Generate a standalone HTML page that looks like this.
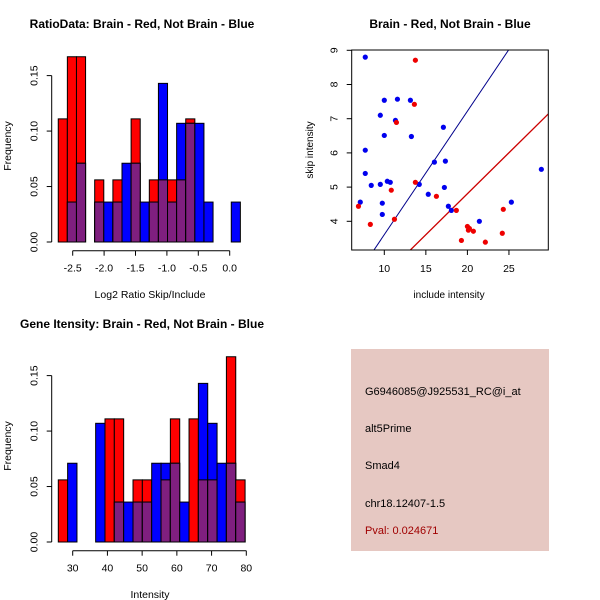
<!DOCTYPE html>
<html><head><meta charset="utf-8"><style>
html,body{margin:0;padding:0;background:#fff}
svg{display:block;font-family:"Liberation Sans",sans-serif}
</style></head><body>
<svg id="c" width="600" height="600" xmlns="http://www.w3.org/2000/svg"></svg>
<script>
// ---- Panel 1: ratio histogram ----
const ratioBinStart = -2.73, ratioBinWidth = 0.145;
const ratioRed  = [0.111,0.167,0.167,0,0.056,0,0.056,0,0.111,0,0.056,0.056,0.056,0.056,0.111,0,0,0,0,0];
const ratioBlue = [0,0.036,0.071,0,0.036,0.036,0.036,0.071,0.071,0.036,0.036,0.143,0.036,0.107,0.107,0.107,0.036,0,0,0.036];
const ratioXTicks = [-2.5,-2.0,-1.5,-1.0,-0.5,0.0];
const ratioXTickLabels = ["-2.5","-2.0","-1.5","-1.0","-0.5","0.0"];
const freqTicks = [0,0.05,0.10,0.15];
const freqTickLabels = ["0.00","0.05","0.10","0.15"];
// ---- Panel 3: intensity histogram ----
const intBinStart = 25.85, intBinWidth = 2.69;
const intRed  = [0.056,0,0,0,0,0.111,0.111,0,0.056,0.056,0,0.056,0.111,0,0.111,0.056,0.056,0,0.167,0.056];
const intBlue = [0,0.071,0,0,0.107,0,0.036,0.036,0.036,0.036,0.071,0.071,0.071,0.036,0,0.143,0.107,0.071,0.071,0.036];
const intXTicks = [30,40,50,60,70,80];
const intXTickLabels = ["30","40","50","60","70","80"];
// ---- Panel 2: scatter ----
const blueX = [7.71,10.0,11.58,13.14,9.52,11.34,10.0,13.26,17.11,7.71,16.03,17.35,7.71,8.43,9.52,10.36,10.72,14.21,15.29,17.23,7.11,9.76,9.76,17.71,18.07,21.44,25.29,28.90];
const blueY = [8.80,7.54,7.57,7.54,7.10,6.95,6.51,6.48,6.75,6.08,5.73,5.76,5.40,5.05,5.08,5.17,5.14,5.08,4.79,4.99,4.56,4.53,4.20,4.44,4.32,4.0,4.56,5.52];
const redX = [13.74,13.62,11.46,13.74,10.84,16.27,6.89,8.32,11.22,18.67,20.0,20.24,20.12,20.72,19.28,22.16,24.20,24.32];
const redY = [8.71,7.42,6.89,5.14,4.91,4.73,4.44,3.91,4.06,4.32,3.85,3.79,3.74,3.71,3.44,3.39,3.65,4.35];
const blueLine = [0.0, 0.361]; // intercept, slope
const redLine = [0.014, 0.2396];
const scXTicks = [10,15,20,25];
const scYTicks = [4,5,6,7,8,9];

const NS="http://www.w3.org/2000/svg";
const svg=document.getElementById('c');
function mk(tag,attrs,parent){const e=document.createElementNS(NS,tag);for(const k in attrs)e.setAttribute(k,attrs[k]);(parent||svg).appendChild(e);return e;}
function txt(s,x,y,size,opts,parent){const t=mk('text',Object.assign({x:x,y:y,'font-size':size,'text-anchor':'middle',fill:'#000'},opts||{}),parent);t.textContent=s;return t;}

function hist(name,ox,oy,binStart,binW,red,blue,xt,xtl,xEndPx,xTitle,title){
  const g=mk('g',{});
  
  
  const x0=ox+72.7, xPerUnit=(ox+xEndPx-x0)/(xt[xt.length-1]-xt[0]);
  const sx=v=>x0+(v-xt[0])*xPerUnit;
  const base=oy+242, sy=v=>base-v*1109.3;
  for(let i=0;i<red.length;i++){
    const a=sx(binStart+i*binW), b=sx(binStart+(i+1)*binW);
    const r=red[i], bl=blue[i], m=Math.min(r,bl);
    if(r>0){const e=mk('rect',{x:a,y:sy(r),width:b-a,height:base-sy(r),fill:'#ff0000',stroke:'#000','stroke-width':1},g);
      
      }
    if(bl>0){const e=mk('rect',{x:a,y:sy(bl),width:b-a,height:base-sy(bl),fill:'#0000ff',stroke:'#000','stroke-width':1},g);
      
      }
    if(m>0){const e=mk('rect',{x:a,y:sy(m),width:b-a,height:base-sy(m),fill:'#7f1f7f',stroke:'#000','stroke-width':1},g);
      
      }
  }
  const ya=ox+51.7;
  mk('line',{x1:ya,x2:ya,y1:sy(0),y2:sy(0.15),stroke:'#000'},g);
  freqTicks.forEach((v,i)=>{mk('line',{x1:ya-5,x2:ya,y1:sy(v),y2:sy(v),stroke:'#000'},g);
    const t=txt(freqTickLabels[i],ya-14,sy(v),10.5,{transform:`rotate(-90 ${ya-14} ${sy(v)})`},g);
    
    });
  const xa=oy+250.7;
  mk('line',{x1:sx(xt[0]),x2:sx(xt[xt.length-1]),y1:xa,y2:xa,stroke:'#000'},g);
  xt.forEach((v,i)=>{mk('line',{x1:sx(v),x2:sx(v),y1:xa,y2:xa+5,stroke:'#000'},g);
    const t=txt(xtl[i],sx(v),xa+21,10.5,{},g);
    
    });
  const xt2=txt(xTitle,ox+150,oy+298,10.5,{},g);
  
  
  const yt=txt('Frequency',ox+11,oy+146,10.5,{transform:`rotate(-90 ${ox+11} ${oy+146})`},g);
  
  
  const tt=txt(title,ox+142,oy+28,12,{'font-weight':'bold'},g);
  
  
}
hist('ratio-histogram',0,0,ratioBinStart,ratioBinWidth,ratioRed,ratioBlue,ratioXTicks,ratioXTickLabels,229.7,'Log2 Ratio Skip/Include','RatioData: Brain - Red, Not Brain - Blue');
hist('intensity-histogram',0,300,intBinStart,intBinWidth,intRed,intBlue,intXTicks,intXTickLabels,246.3,'Intensity','Gene Itensity: Brain - Red, Not Brain - Blue');

(function(){
  const g=mk('g',{});
  
  
  const L=351.7,R=548.3,T=50,B=250;
  const sx=v=>384.3+(v-10)*8.31, sy=v=>50.3+(9-v)*34.2;
  const ix=v=>10+(v-384.3)/8.31;
  const cp=mk('clipPath',{id:'scclip'},g);mk('rect',{x:L,y:T,width:R-L,height:B-T},cp);
  const lg=mk('g',{'clip-path':'url(#scclip)'},g);
  [[blueLine,'#00008b','blue-fit-line',1],[redLine,'#cc0000','red-fit-line',1.3]].forEach(([ln,c,n,w])=>{
    const xa=ix(L),xb=ix(R);
    const e=mk('line',{x1:L,y1:sy(ln[0]+ln[1]*xa),x2:R,y2:sy(ln[0]+ln[1]*xb),stroke:c,'stroke-width':w},lg);
    
    
  });
  blueX.forEach((x,i)=>{const e=mk('circle',{cx:sx(x),cy:sy(blueY[i]),r:2.6,fill:'#0000ee'},lg);
    
    });
  redX.forEach((x,i)=>{const e=mk('circle',{cx:sx(x),cy:sy(redY[i]),r:2.6,fill:'#ee0000'},lg);
    
    });
  mk('rect',{x:L,y:T,width:R-L,height:B-T,fill:'none',stroke:'#000'},g);
  scXTicks.forEach(v=>{mk('line',{x1:sx(v),x2:sx(v),y1:B,y2:B+5,stroke:'#000'},g);
    const t=txt(String(v),sx(v),B+22,10.5,{},g);
    
    });
  scYTicks.forEach(v=>{mk('line',{x1:L-5,x2:L,y1:sy(v),y2:sy(v),stroke:'#000'},g);
    const t=txt(String(v),L-14,sy(v),10.5,{transform:`rotate(-90 ${L-14} ${sy(v)})`},g);
    
    });
  const xt=txt('include intensity',449,298,10,{},g);
  
  
  const yt=txt('skip intensity',313,150,10,{transform:'rotate(-90 313 150)'},g);
  
  
  const tt=txt('Brain - Red, Not Brain - Blue',450,28,12,{'font-weight':'bold'},g);
  
  
})();
</script>
<div style="position:absolute;left:351px;top:349px;width:198px;height:202px;background:#e6c8c2;font-family:'Liberation Sans',sans-serif;font-size:11px;">
  <div style="position:absolute;left:14px;top:37px">G6946085@J925531_RC@i_at</div>
  <div style="position:absolute;left:14px;top:74px">alt5Prime</div>
  <div style="position:absolute;left:14px;top:111px">Smad4</div>
  <div style="position:absolute;left:14px;top:149px">chr18.12407-1.5</div>
  <div style="position:absolute;left:14px;top:176px;color:#a00000">Pval: 0.024671</div>
</div>
</body></html>
